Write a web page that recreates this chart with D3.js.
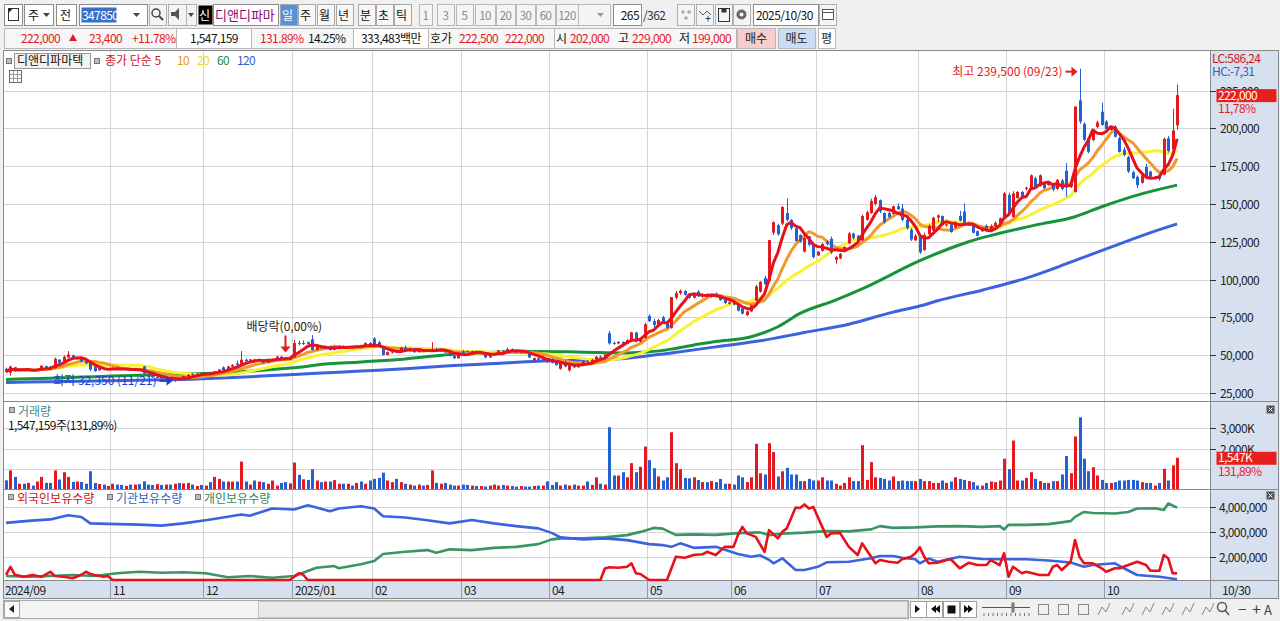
<!DOCTYPE html>
<html>
<head>
<meta charset="utf-8">
<script src="https://cdn.jsdelivr.net/npm/d3@7"></script>
<style>
body { margin: 0; background: #f0f0f0; overflow: hidden; }
svg { display: block; font-family: "Noto Sans CJK KR", "Noto Sans", sans-serif; }
.num { letter-spacing: -0.6px; }
</style>
</head>
<body>
<svg id="chart" width="1280" height="621"></svg>
<script>
// prices in thousand won: [open, high, low, close], one row per trading day (2024/09/25 .. 2025/10/30)
var PRICE_UNIT = 1000;
var ohlc = [
 [41.0,41.8,38.8,39.0],[38.5,43.0,36.5,42.5],[42.0,42.2,39.0,39.5],[39.6,40.8,39.2,40.5],[40.2,40.6,39.5,40.0],
 [40.0,40.9,39.7,40.4],[40.4,40.6,39.6,39.9],[39.9,40.5,39.5,40.3],[40.3,43.5,40.0,43.0],[42.8,43.0,41.3,41.8],
 [42.5,42.8,40.5,41.0],[41.5,48.5,41.0,47.5],[47.0,47.4,44.5,45.0],[45.5,49.8,45.2,49.0],[48.5,52.7,48.0,50.5],
 [50.0,50.3,47.0,47.5],[47.5,49.0,47.0,48.5],[48.5,48.8,45.5,46.0],[46.0,46.5,44.0,44.5],[45.5,46.0,39.5,40.5],
 [42.5,43.0,39.0,39.5],[40.0,42.0,39.8,41.5],[41.5,42.0,40.0,40.5],[40.5,41.5,40.0,41.2],
 [41.2,42.0,40.5,41.5],[41.5,41.8,40.5,40.8],[40.8,41.2,40.0,40.2],[40.2,41.5,40.0,41.0],[41.0,41.2,39.5,39.8],
 [39.8,41.0,39.5,40.6],[40.6,40.8,39.6,39.9],[42.5,43.0,37.5,38.0],[37.0,37.5,35.8,36.2],[36.2,36.8,35.0,35.5],
 [35.2,36.0,34.5,35.6],[35.5,35.8,34.0,34.5],[34.5,35.2,34.0,34.8],[34.8,35.0,33.5,33.8],[33.5,34.6,32.35,34.2],
 [34.2,35.0,33.8,34.0],[34.0,36.5,33.9,36.2],[36.2,37.5,35.8,37.0],[37.5,38.2,36.5,36.8],[36.8,38.0,36.5,37.8],
 [38.0,38.3,37.0,37.4],
 [37.4,38.5,37.0,38.2],[38.2,38.6,37.5,37.8],[37.8,39.5,37.6,39.2],[39.2,40.8,39.0,40.5],[42.0,42.5,39.5,40.0],
 [40.0,43.0,39.8,42.5],[42.5,44.0,42.0,43.5],[44.5,46.5,43.0,43.5],[44.0,52.7,43.8,47.0],[47.0,47.8,45.5,46.0],
 [46.0,47.5,45.5,47.2],[47.2,47.6,46.0,46.5],[46.5,47.5,46.0,47.0],[47.0,47.2,44.5,45.0],[45.0,47.5,44.8,47.2],
 [47.2,47.8,46.5,47.5],[47.5,49.5,47.2,49.0],[49.0,49.5,47.8,48.0],[48.0,48.5,46.5,47.0],[47.0,49.0,46.8,48.5],
 [48.5,60.0,48.3,58.0],[58.0,59.5,56.5,57.5],[57.5,59.8,56.8,58.0],[58.5,59.0,57.0,57.3],[60.5,63.3,53.0,53.5],
 [53.5,55.8,53.0,55.5],[55.5,56.0,54.0,54.5],[54.5,56.2,54.2,55.8],[55.8,56.0,53.0,53.5],[53.5,55.5,53.2,55.0],
 [55.0,56.5,54.6,56.0],[56.0,56.3,54.5,55.0],[55.0,56.2,54.8,55.8],[55.8,56.0,54.8,55.2],[55.2,56.5,55.0,56.2],
 [56.2,57.0,55.5,55.8],[55.8,58.5,55.5,58.0],[58.0,58.8,56.5,57.0],
 [61.0,62.0,55.0,55.5],[58.5,59.5,55.5,56.0],[54.5,55.0,49.8,50.2],[50.2,52.5,50.0,52.0],[52.0,53.0,51.0,52.5],
 [52.5,53.0,51.5,52.0],[52.0,55.5,51.8,55.0],[55.0,56.5,53.5,54.0],[54.0,55.0,52.5,54.5],[54.5,54.8,51.5,52.0],
 [52.0,53.5,51.8,53.0],[53.0,53.5,52.0,52.5],[52.5,53.8,52.2,53.5],[53.0,58.6,52.8,54.0],[54.0,55.0,52.5,52.8],
 [52.8,54.5,52.5,54.2],[54.0,54.3,51.5,51.8],[51.8,52.0,49.2,49.5],[49.5,50.0,47.5,48.0],[48.0,51.5,47.8,51.0],
 [52.5,53.5,51.0,51.5],[52.8,53.2,52.0,52.3],[52.3,53.0,51.5,52.6],[52.6,53.0,51.0,51.2],[51.2,52.0,50.5,51.8],
 [51.8,52.0,48.0,48.5],[48.5,50.5,48.3,50.0],[50.0,51.5,49.8,51.2],[51.2,53.5,51.0,53.0],[53.0,53.5,52.0,52.5],
 [52.5,55.0,52.2,54.0],[54.0,54.5,52.8,53.2],[53.2,53.5,51.5,52.0],[52.0,53.0,51.0,52.5],[52.5,53.0,51.2,51.5],
 [51.5,51.8,48.0,48.5],[46.5,48.5,46.2,48.0],[48.0,48.5,46.5,47.0],[47.0,48.0,46.0,47.5],[47.5,47.8,45.0,45.5],
 [47.5,48.0,44.5,45.0],[45.0,45.5,43.0,43.5],[41.0,46.0,40.5,45.5],[45.5,46.5,42.0,42.5],[40.0,44.5,39.0,44.0],
 [44.0,44.2,41.5,42.0],[42.0,44.0,41.8,43.5],[43.5,46.5,43.2,46.0],[46.0,46.5,44.5,45.0],[45.0,47.5,44.8,47.0],
 [47.0,49.5,46.8,49.0],[49.0,49.8,48.2,48.5],[48.5,51.0,48.3,50.5],[64.5,66.0,57.0,57.8],[58.0,59.0,57.0,57.8],
 [57.8,59.2,57.2,58.8],[58.8,59.0,57.0,57.5],[57.5,60.5,57.3,60.0],[60.0,65.5,59.8,65.0],[65.0,65.5,58.5,59.0],
 [59.0,61.5,58.5,61.0],[61.5,71.5,61.0,70.5],
 [76.0,77.0,72.0,72.5],[72.5,74.0,67.5,70.0],[70.0,74.0,69.5,73.2],[75.0,76.0,72.0,72.5],[72.0,72.5,67.5,68.0],
 [68.0,88.4,67.5,88.4],[88.0,92.5,87.0,91.0],[91.0,93.5,90.0,92.5],[92.5,93.0,89.5,90.0],[90.0,90.5,87.5,88.0],
 [88.0,91.5,87.5,91.0],[92.0,93.0,88.5,89.0],[89.0,91.0,88.0,90.5],[90.5,91.0,88.5,89.0],[88.5,89.5,88.0,89.2],
 [90.5,91.5,88.5,89.0],[89.0,89.5,86.0,86.5],[86.5,87.0,84.0,84.5],[84.0,85.5,83.5,85.0],
 [85.5,86.5,83.0,83.5],[83.5,84.0,79.0,79.5],[81.0,82.0,77.0,77.5],[76.5,79.5,75.8,79.0],[79.0,83.5,78.5,83.0],
 [86.0,96.5,85.5,95.5],[92.0,99.0,91.5,98.5],[101.0,102.5,96.5,97.0],[99.0,126.1,98.5,126.1],[131.0,138.5,129.5,138.0],
 [136.0,137.0,129.0,130.0],[137.0,148.5,136.0,148.0],[144.0,153.7,138.5,139.5],[139.5,140.0,133.0,134.0],[134.0,134.5,125.0,125.5],
 [129.5,130.0,124.5,125.0],[118.5,128.5,118.0,127.5],[128.5,129.0,122.0,123.0],[123.0,123.5,114.0,115.0],
 [116.0,119.0,115.5,118.5],[119.0,124.5,118.5,123.5],[125.0,126.0,122.5,123.5],[127.0,128.5,117.0,118.0],[113.0,115.5,110.5,115.0],
 [114.0,117.5,113.5,117.0],[119.0,122.0,118.5,121.5],[124.0,131.5,123.5,130.5],[130.5,131.0,126.5,127.5],[129.0,129.5,125.5,126.0],
 [126.0,143.0,125.5,142.0],[139.5,145.5,139.0,144.5],[144.0,153.5,143.5,152.0],[150.0,156.0,149.0,154.5],[152.5,153.0,144.0,145.0],
 [144.0,144.5,137.0,138.0],[144.0,145.0,140.5,141.5],[143.5,149.0,143.0,148.5],[148.5,150.5,146.0,146.5],[147.0,150.0,138.5,139.5],
 [139.5,140.5,133.0,134.0],[133.0,134.0,125.5,126.5],[126.0,130.0,125.5,129.0],
 [128.5,129.5,117.0,118.0],[119.5,131.0,119.0,129.5],[130.0,136.5,129.5,135.5],[132.5,141.5,132.0,141.0],[141.0,143.0,138.0,142.5],
 [142.0,142.5,135.5,136.0],[136.0,137.0,135.0,136.5],[136.5,137.0,131.0,131.5],[134.5,138.5,134.0,138.0],[142.0,145.5,138.5,139.0],
 [145.0,150.4,137.0,137.5],[137.0,138.0,136.0,137.5],[136.0,136.5,130.5,131.0],[132.0,132.5,128.5,129.0],[132.0,133.5,131.5,133.0],
 [135.5,136.5,132.5,133.0],[132.0,136.5,131.5,135.5],[135.5,138.5,135.0,137.5],[137.5,141.0,137.0,140.5],[141.5,158.0,141.0,157.0],
 [156.0,157.5,143.0,144.0],[141.5,158.5,141.0,157.0],[154.0,158.5,153.5,158.0],[158.0,158.5,154.0,155.0],[160.0,161.5,159.0,160.8],
 [160.5,169.5,160.0,169.0],[167.0,168.0,160.0,160.5],[162.0,169.5,161.5,169.0],[163.5,164.5,160.0,160.5],[162.5,164.5,162.0,163.5],
 [163.5,164.0,158.5,159.5],[160.0,166.5,159.5,166.0],[165.5,166.5,159.0,160.0],[172.0,177.0,154.8,161.0],[161.5,166.5,160.5,165.0],
 [158.0,214.5,157.5,214.5],[218.5,239.5,203.0,204.5],[203.0,204.0,191.5,192.5],[193.5,194.5,183.5,184.5],[192.3,199.5,191.5,198.9],
 [201.0,205.0,200.0,204.0],[211.0,216.9,202.0,202.2],
 [204.5,205.5,198.5,199.5],[199.0,201.5,198.5,201.0],[201.0,202.0,194.0,194.5],[193.5,194.5,184.0,184.5],[186.0,187.5,181.5,182.5],
 [181.0,182.0,170.5,171.5],[171.0,172.0,166.5,167.0],[168.0,169.0,160.5,162.5],[164.0,170.0,163.5,169.0],[174.5,176.5,168.0,168.5],
 [171.5,172.0,167.5,168.0],[167.5,168.5,166.5,168.0],[169.0,170.0,165.5,166.5],[169.5,194.0,169.0,193.0],[193.5,195.0,184.0,185.0],
 [186.0,213.0,185.0,198.6],[202.0,229.0,199.0,222.0]
];

// daily volume, thousand shares
var volumeK = [
 430,920,600,260,260,300,170,370,600,300,300,920,470,830,600,350,370,350,260,880,300,250,220,150,
 260,220,200,150,220,220,240,380,220,200,240,200,220,220,260,300,280,300,220,150,200,
 170,340,600,500,370,370,370,370,1360,370,220,420,370,340,260,420,170,300,340,280,
 1310,700,480,450,980,420,340,370,370,440,260,260,260,170,300,370,260,420,
 500,550,810,420,340,500,340,260,220,170,220,170,200,920,300,260,300,220,170,170,
 220,200,170,150,150,120,170,220,170,200,170,150,120,150,120,120,150,170,170,380,
 200,340,170,220,170,220,170,170,370,200,580,260,220,3060,
 670,670,830,580,1280,830,1100,2100,1430,1030,620,420,580,
 2810,1280,980,550,530,580,450,340,340,390,340,500,260,260,
 220,670,580,340,580,2240,780,720,2270,1830,620,880,1050,720,720,390,390,500,420,
 420,580,420,420,260,170,300,580,390,390,2170,450,1330,580,550,500,420,620,390,420,390,390,390,
 500,390,390,300,300,420,300,370,580,500,450,390,340,170,170,300,370,340,420,1500,
 980,2400,420,420,550,830,500,390,300,300,390,390,720,1630,780,2600,3550,1500,880,1080,670,450,
 300,300,340,420,420,450,450,420,340,300,300,170,300,1000,420,1173,1547
];

// 60 / 120 day averages: [day index, thousand won]
var ma60Pts = [[0,34.0],[10,34.8],[20,35.8],[30,36.8],[40,37.5],[50,38.5],[60,40.5],[66,42.0],[70,43.5],[80,45.5],
 [90,47.5],[100,50.5],[110,52.0],[120,52.5],[130,52.0],[140,51.5],[145,52.2],[150,54.0],[157,57.8],[160,59.0],
 [168,62.2],[174,68.8],[179,77.6],[187,86.4],[194,95.2],[206,112.5],[217,125.0],[232,136.0],[241,141.6],[247,148.2],
 [255,155.9],[264,162.5]];
var ma120Pts = [[0,32.0],[10,32.5],[20,33.0],[30,33.5],[40,34.0],[50,35.0],[60,36.5],[70,38.0],[80,39.5],[90,41.0],
 [100,43.0],[110,44.5],[120,46.0],[130,46.8],[140,48.0],[150,51.5],[160,55.5],[170,59.5],[180,65.0],[190,70.5],
 [200,78.5],[206,82.5],[210,86.0],[220,93.0],[230,101.0],[240,111.5],[250,122.5],[260,133.0],[264,136.8]];

// holdings, million shares: [day index, value]
var foreignPts = [[0,1.30],[1,1.62],[2,1.30],[4,1.22],[6,1.29],[8,1.22],[10,1.42],[11,1.25],[13,1.22],[15,1.16],
 [17,1.30],[18,1.42],[19,1.33],[20,1.29],[22,1.22],[23,1.25],[24,1.09],[64,1.09],[66,1.36],[67,1.30],[68,1.09],
 [134,1.09],[135,1.55],[136,1.60],[138,1.58],[140,1.62],[141,1.76],[142,1.36],[143,1.33],[145,1.09],[149,1.09],
 [151,2.02],[153,1.98],[155,2.09],[157,2.12],[158,2.22],[160,2.09],[162,2.42],[164,2.42],[165,2.89],[166,3.22],
 [167,2.96],[169,2.82],[171,2.22],[172,3.09],[174,2.76],[175,3.02],[176,3.16],[178,4.00],[179,3.98],[180,4.12],
 [181,3.96],[182,4.02],[184,3.22],[185,2.82],[186,2.96],[188,2.98],[190,2.42],[192,2.09],[193,2.56],[194,2.29],
 [196,1.76],[197,1.89],[199,1.82],[201,1.78],[202,1.92],[204,2.02],[205,2.16],[206,2.40],[207,2.02],[208,1.76],
 [210,1.78],[212,1.89],[213,1.92],[215,1.56],[217,1.78],[219,1.69],[221,1.69],[222,1.89],[224,1.69],[225,2.16],
 [226,1.22],[227,1.62],[229,1.36],[230,1.42],[233,1.29],[235,1.29],[236,1.62],[237,1.69],[238,1.49],[240,1.82],
 [241,2.69],[242,2.02],[243,1.76],[245,1.76],[247,1.56],[248,1.42],[250,1.56],[251,1.56],[253,1.69],[255,1.82],
 [257,1.69],[258,1.46],[260,1.46],[261,2.09],[262,1.96],[263,1.36],[264,1.36]];
var instPts = [[0,3.38],[5,3.46],[10,3.52],[14,3.69],[17,3.62],[19,3.36],[25,3.33],[30,3.31],[35,3.27],[40,3.36],
 [45,3.49],[50,3.63],[53,3.72],[55,3.67],[60,3.96],[65,3.92],[68,4.09],[70,4.00],[73,3.85],[75,3.96],[80,4.05],
 [83,3.96],[85,3.65],[90,3.60],[95,3.49],[100,3.36],[105,3.50],[110,3.36],[115,3.25],[120,3.16],[123,2.98],
 [125,2.80],[130,2.72],[135,2.76],[140,2.69],[145,2.53],[148,2.49],[150,2.42],[152,2.56],[155,2.38],[160,2.42],
 [165,2.13],[168,2.02],[170,2.08],[172,1.90],[173,1.76],[175,1.96],[178,1.49],[180,1.49],[183,1.62],[185,1.80],
 [190,1.82],[195,1.96],[197,2.05],[200,2.05],[202,1.98],[205,1.92],[206,1.76],[208,1.95],[210,1.82],[215,2.02],
 [220,1.93],[225,1.92],[230,1.92],[235,1.87],[240,1.79],[243,1.62],[245,1.69],[250,1.76],[252,1.56],[255,1.29],
 [260,1.22],[264,1.12]];
var retailPts = [[0,1.25],[5,1.22],[10,1.25],[15,1.29],[20,1.25],[25,1.36],[30,1.42],[35,1.38],[40,1.40],[45,1.36],
 [50,1.20],[55,1.25],[60,1.18],[65,1.25],[68,1.45],[70,1.58],[74,1.65],[75,1.56],[80,1.72],[83,1.85],[85,2.13],
 [90,2.22],[95,2.29],[97,2.18],[100,2.32],[105,2.29],[110,2.38],[115,2.42],[120,2.53],[123,2.72],[125,2.76],
 [130,2.76],[135,2.80],[140,2.89],[143,3.02],[146,3.18],[148,3.15],[151,2.90],[155,2.92],[160,2.90],[165,2.97],
 [170,3.00],[172,2.89],[175,2.95],[180,2.99],[185,3.05],[190,3.04],[195,3.12],[197,3.25],[200,3.18],[205,3.20],
 [210,3.24],[215,3.25],[220,3.22],[224,3.25],[225,3.12],[226,3.30],[230,3.30],[235,3.33],[240,3.45],[241,3.62],
 [243,3.82],[245,3.78],[250,3.76],[253,3.82],[255,3.96],[259,3.97],[261,3.90],[262,4.16],[264,3.99]];

var monthStart = [24, 45, 65, 83, 103, 123, 145, 164, 183, 206, 226, 248];
var monthLabels = ['11', '12', '2025/01', '02', '03', '04', '05', '06', '07', '08', '09', '10'];
var firstLabel = '2024/09', lastLabel = '10/30';
var priceTicks = [25000, 50000, 75000, 100000, 125000, 150000, 175000, 200000, 225000];
var volTicks = [1000000, 2000000, 3000000];
var holdTicks = [2000000, 3000000, 4000000];
var exDivIdx = 63;

var RED = '#e3191f', BLUE = '#2360d2';
var svg = d3.select('#chart');

function rect(x0, y0, w, h, fill, stroke) {
    return svg.append('rect').attr('x', x0 + 0.5).attr('y', y0 + 0.5).attr('width', w).attr('height', h)
        .attr('fill', fill).attr('stroke', stroke || 'none');
}
function text(x0, y0, s, color, size, anchor) {
    return svg.append('text').attr('x', x0).attr('y', y0).attr('fill', color || '#111')
        .attr('font-size', size || 12).attr('text-anchor', anchor || 'start').text(s);
}
function tri(pts, fill) {
    return svg.append('path').attr('d', 'M' + pts.join('L') + 'Z').attr('fill', fill);
}

rect(-1, -1, 1282, 623, '#f0f0f0');

// ---- toolbar row 1
var tb = 4, th = 21, tbase = 19.5;
rect(4, tb, 18, th, '#fff', '#8c8c8c');
rect(8, 8, 10, 12, '#fff', '#333');
tri([[8.5, 8.5], [13, 8.5], [8.5, 13]], '#222');
rect(24, tb, 29, th, '#fff', '#8c8c8c'); text(28, tbase, '주');
tri([[43, 13], [50, 13], [46.5, 17]], '#444');
rect(56, tb, 20, th, '#fff', '#8c8c8c'); text(60, tbase, '전');
rect(79, tb, 68, th, '#fff', '#8c8c8c');
rect(81, 7, 35, 15, '#3a6fc9');
text(82, tbase, '347850', '#fff', 12).attr('class', 'num');
tri([[133, 13], [140, 13], [136.5, 17]], '#444');
rect(149, tb, 17, th, '#f4f4f4', '#b0b0b0');
svg.append('circle').attr('cx', 156).attr('cy', 13).attr('r', 4).attr('fill', 'none').attr('stroke', '#444').attr('stroke-width', 1.5);
svg.append('line').attr('x1', 159).attr('y1', 16).attr('x2', 163).attr('y2', 20).attr('stroke', '#444').attr('stroke-width', 2);
rect(168, tb, 18, th, '#f4f4f4', '#b0b0b0');
tri([[171, 12], [175, 12], [179, 8], [179, 20], [175, 16], [171, 16]], '#555');
rect(186, tb, 10, th, '#f4f4f4', '#b0b0b0');
tri([[188, 13], [194, 13], [191, 17]], '#444');
rect(198, 5, 14, 19, '#000');
text(199, tbase, '신', '#fff', 12);
rect(213, tb, 65, th, '#fff', '#8c8c8c');
text(215, tbase, '디앤디파마', '#8a0f6e', 13);
var periods = [[280, '일'], [298, '주'], [317, '월'], [336, '년'], [358, '분'], [376, '초'], [394, '틱']];
periods.forEach(function (p, i) {
    rect(p[0], tb, 17, th, i === 0 ? '#5a8fd8' : '#f7f7f7', '#a8a8a8');
    text(p[0] + 2, tbase, p[1], i === 0 ? '#fff' : '#111', 12);
});
var nums = [[419, 13, '1'], [437, 17, '3'], [456, 17, '5'], [475, 20, '10'], [496, 19, '20'], [516, 19, '30'], [536, 19, '60'], [556, 22, '120']];
nums.forEach(function (n) {
    rect(n[0], tb, n[1], th, '#f4f4f4', '#b8b8b8');
    text(n[0] + n[1] / 2, tbase, n[2], '#888', 11.5, 'middle').attr('class', 'num');
});
rect(578, tb, 32, th, '#f4f4f4', '#b8b8b8');
tri([[597, 13], [604, 13], [600.5, 17]], '#999');
rect(613, tb, 28, th, '#fff', '#8c8c8c');
text(639, tbase, '265', '#111', 12, 'end').attr('class', 'num');
text(643, tbase, '/362', '#333', 12).attr('class', 'num');
[677, 696, 715, 733].forEach(function (bx) {
    rect(bx, tb, 17, th, '#f4f4f4', '#b0b0b0');
});
svg.append('circle').attr('cx', 683).attr('cy', 12).attr('r', 1.8).attr('fill', '#aaa');
svg.append('circle').attr('cx', 689).attr('cy', 12).attr('r', 1.8).attr('fill', '#aaa');
svg.append('circle').attr('cx', 686).attr('cy', 18).attr('r', 1.8).attr('fill', '#aaa');
svg.append('path').attr('d', 'M699,11L703,15L707,11L711,15').attr('fill', 'none').attr('stroke', '#555');
text(705, 23, '+', '#222', 11);
rect(718, 8, 11, 13, 'none', '#333');
rect(721, 8, 5, 4, '#333');
svg.append('circle').attr('cx', 741.5).attr('cy', 14.5).attr('r', 5).attr('fill', '#666');
svg.append('circle').attr('cx', 741.5).attr('cy', 14.5).attr('r', 2).attr('fill', '#f4f4f4');
rect(753, tb, 65, th, '#fff', '#8c8c8c');
text(756, tbase, '2025/10/30', '#111', 12).attr('class', 'num');
rect(819, tb, 17, th, '#f4f4f4', '#b0b0b0');
rect(822, 9, 11, 10, '#fff', '#555');
svg.append('line').attr('x1', 822).attr('x2', 834).attr('y1', 12.5).attr('y2', 12.5).attr('stroke', '#555');

// ---- quote row 2
var qb = 28, qh = 20, qbase = 43;
rect(4, qb, 172, qh, '#f6f6f6', '#b8b8b8');
rect(176, qb, 75, qh, '#fff', '#b8b8b8');
rect(251, qb, 102, qh, '#f6f6f6', '#b8b8b8');
rect(353, qb, 75, qh, '#fff', '#b8b8b8');
rect(428, qb, 126, qh, '#f6f6f6', '#b8b8b8');
rect(554, qb, 182, qh, '#f6f6f6', '#b8b8b8');
text(21, qbase, '222,000', RED).attr('class', 'num');
tri([[69, 41], [77, 41], [73, 34]], RED);
text(89, qbase, '23,400', RED).attr('class', 'num');
text(132, qbase, '+11.78%', RED).attr('class', 'num');
text(190, qbase, '1,547,159').attr('class', 'num');
text(260, qbase, '131.89%', RED).attr('class', 'num');
text(308, qbase, '14.25%').attr('class', 'num');
text(361, qbase, '333,483백만').attr('class', 'num');
text(430, qbase, '호가');
text(459, qbase, '222,500', RED).attr('class', 'num');
text(505, qbase, '222,000', RED).attr('class', 'num');
text(556, qbase, '시');
text(570, qbase, '202,000', RED).attr('class', 'num');
text(618, qbase, '고');
text(632, qbase, '229,000', RED).attr('class', 'num');
text(679, qbase, '저');
text(692, qbase, '199,000', RED).attr('class', 'num');
rect(737, qb, 38, qh, '#f6cccc', '#b8b8b8'); text(756, qbase, '매수', '#222', 12, 'middle');
rect(778, qb, 37, qh, '#c9def5', '#b8b8b8'); text(796.5, qbase, '매도', '#222', 12, 'middle');
rect(818, qb, 17, qh, '#fff', '#b8b8b8'); text(826.5, qbase, '평', '#222', 12, 'middle');

// ---- chart frame
var plotL = 3, plotR = 1210, axR = 1278;
var priceTop = 50, priceBot = 401, volBot = 489, holdBot = 580, dateBot = 598;
rect(plotL, priceTop, axR - plotL, dateBot - priceTop, '#fff');
rect(plotR, priceTop, axR - plotR, holdBot - priceTop, '#d6e0ef');
rect(plotL, holdBot, axR - plotL, dateBot - holdBot, '#d6e0ef');

var x = d3.scaleLinear().domain([0, ohlc.length - 1]).range([6, 1177.1]);
var step = x(1) - x(0);
var yP = d3.scaleLinear().domain([19700, 251850]).range([priceBot, priceTop]);
var yV = d3.scaleLinear().domain([0, 4200000]).range([volBot, 404.2]);
var yH = d3.scaleLinear().domain([1090000, 4700000]).range([holdBot, 490]);

var grid = svg.append('g').attr('stroke', '#d5d5d5').attr('stroke-width', 1);
priceTicks.forEach(function (t) {
    var yy = Math.round(yP(t)) + 0.5;
    grid.append('line').attr('x1', plotL).attr('x2', plotR).attr('y1', yy).attr('y2', yy);
});
volTicks.forEach(function (t) {
    var yy = Math.round(yV(t)) + 0.5;
    grid.append('line').attr('x1', plotL).attr('x2', plotR).attr('y1', yy).attr('y2', yy);
});
holdTicks.forEach(function (t) {
    var yy = Math.round(yH(t)) + 0.5;
    grid.append('line').attr('x1', plotL).attr('x2', plotR).attr('y1', yy).attr('y2', yy);
});
monthStart.forEach(function (m) {
    var xx = Math.round(x(m) - step / 2) + 0.5;
    grid.append('line').attr('x1', xx).attr('x2', xx).attr('y1', priceTop).attr('y2', holdBot);
    svg.append('line').attr('x1', xx).attr('x2', xx).attr('y1', holdBot).attr('y2', dateBot).attr('stroke', '#8e9bb0');
});

// panel borders
var border = svg.append('g').attr('stroke', '#8a8a8a').attr('fill', 'none');
border.append('rect').attr('x', plotL + 0.5).attr('y', priceTop + 0.5).attr('width', axR - plotL).attr('height', dateBot - priceTop);
[priceBot, volBot, holdBot].forEach(function (yy) {
    border.append('line').attr('x1', plotL).attr('x2', axR).attr('y1', yy + 0.5).attr('y2', yy + 0.5);
});
border.append('line').attr('x1', plotR + 0.5).attr('x2', plotR + 0.5).attr('y1', priceTop).attr('y2', dateBot);

// ---- moving averages
var closes = ohlc.map(function (d) { return d[3]; });
function sma(n) {
    return closes.map(function (c, i) { return d3.mean(closes.slice(Math.max(0, i - n + 1), i + 1)); });
}
var maLine = d3.line().x(function (d, i) { return x(i); }).y(function (d) { return yP(d * PRICE_UNIT); });
var ptLine = d3.line().x(function (d) { return x(d[0]); }).y(function (d) { return yP(d[1] * PRICE_UNIT); }).curve(d3.curveMonotoneX);
var maG = svg.append('g').attr('fill', 'none').attr('stroke-width', 3).attr('stroke-linejoin', 'round');
maG.append('path').attr('d', ptLine(ma120Pts)).attr('stroke', '#3a63e0');
maG.append('path').attr('d', ptLine(ma60Pts)).attr('stroke', '#17943a');
maG.append('path').attr('d', maLine(sma(20))).attr('stroke', '#f8f232');
maG.append('path').attr('d', maLine(sma(10))).attr('stroke', '#f2982c');

// ---- candles
function col(d) { return d[3] >= d[0] ? RED : BLUE; }
var cg = svg.append('g');
var candles = cg.selectAll('g').data(ohlc).enter().append('g');
candles.append('line')
    .attr('x1', function (d, i) { return Math.round(x(i)) + 0.5; })
    .attr('x2', function (d, i) { return Math.round(x(i)) + 0.5; })
    .attr('y1', function (d) { return yP(d[1] * PRICE_UNIT); })
    .attr('y2', function (d) { return yP(d[2] * PRICE_UNIT); })
    .attr('stroke', col);
candles.append('rect')
    .attr('x', function (d, i) { return Math.round(x(i)) - 1; })
    .attr('width', 3)
    .attr('y', function (d) { return yP(Math.max(d[0], d[3]) * PRICE_UNIT); })
    .attr('height', function (d) { return Math.max(1, Math.abs(yP(d[0] * PRICE_UNIT) - yP(d[3] * PRICE_UNIT))); })
    .attr('fill', col);

svg.append('path').attr('d', maLine(sma(5))).attr('fill', 'none').attr('stroke', '#e8101a').attr('stroke-width', 3).attr('stroke-linejoin', 'round');

// ---- volume bars
svg.append('g').selectAll('rect').data(volumeK).enter().append('rect')
    .attr('x', function (d, i) { return Math.round(x(i)) - 1; })
    .attr('width', 3)
    .attr('y', function (d) { return yV(d * 1000); })
    .attr('height', function (d) { return volBot - yV(d * 1000); })
    .attr('fill', function (d, i) { return col(ohlc[i]); });

// ---- holdings lines
var hLine = d3.line().x(function (d) { return x(d[0]); }).y(function (d) { return yH(d[1] * 1e6); });
var hg = svg.append('g').attr('fill', 'none').attr('stroke-width', 2.6).attr('stroke-linejoin', 'round');
hg.append('path').attr('d', hLine(retailPts)).attr('stroke', '#3a9565');
hg.append('path').attr('d', hLine(instPts)).attr('stroke', '#3a63e0');
hg.append('path').attr('d', hLine(foreignPts)).attr('stroke', '#e8101a');

// ---- right axes
var fmt = d3.format(',');
var ax = svg.append('g').attr('stroke', '#333');
priceTicks.forEach(function (t) {
    var yy = Math.round(yP(t)) + 0.5;
    ax.append('line').attr('x1', plotR).attr('x2', plotR + 6).attr('y1', yy).attr('y2', yy);
    text(1220, yy + 4.5, fmt(t), '#222', 12).attr('class', 'num');
});
[2000000, 3000000].forEach(function (t) {
    var yy = Math.round(yV(t)) + 0.5;
    ax.append('line').attr('x1', plotR).attr('x2', plotR + 6).attr('y1', yy).attr('y2', yy);
    text(1220, yy + 4.5, fmt(t / 1000) + 'K', '#222', 12).attr('class', 'num');
});
holdTicks.forEach(function (t) {
    var yy = Math.round(yH(t)) + 0.5;
    ax.append('line').attr('x1', plotR).attr('x2', plotR + 6).attr('y1', yy).attr('y2', yy);
    text(1219, yy + 4.5, fmt(t), '#222', 12).attr('class', 'num');
});

// current price / volume tags
var last = ohlc[ohlc.length - 1];
var lastY = yP(last[3] * PRICE_UNIT);
rect(1216, lastY - 6.5, 60, 13, '#e8201c');
text(1218, lastY + 4.5, fmt(last[3] * PRICE_UNIT), '#fff', 12).attr('class', 'num');
text(1218, lastY + 18, '11,78%', '#e8201c', 12).attr('class', 'num');
var lastV = volumeK[volumeK.length - 1] * 1000;
var vY = yV(lastV);
rect(1216, vY - 6.5, 60, 13, '#e8201c');
text(1218, vY + 4.5, fmt(Math.round(lastV / 1000)) + 'K', '#fff', 12).attr('class', 'num');
text(1218, vY + 18, '131,89%', '#e8201c', 12).attr('class', 'num');
text(1212, 63, 'LC:586,24', '#d0141c', 12).attr('class', 'num');
text(1212, 76, 'HC:-7,31', '#2f5fbf', 12).attr('class', 'num');

// panel close buttons
[405, 491].forEach(function (yy) {
    rect(1266, yy, 8, 8, '#555');
    svg.append('path').attr('d', 'M' + 1268.5 + ',' + (yy + 2.5) + 'l4,4m0,-4l-4,4').attr('stroke', '#fff');
});

// ---- date axis labels
text(5, 595, firstLabel, '#222', 12).attr('class', 'num');
monthStart.forEach(function (m, i) {
    text(Math.round(x(m) - step / 2) + 3, 595, monthLabels[i], '#222', 12).attr('class', 'num');
});
text(1222, 595, lastLabel, '#222', 12).attr('class', 'num');

// ---- legends
function legendBox(x0, y0) { rect(x0, y0, 5, 5, '#bbb', '#777'); }
legendBox(6, 58);
rect(14, 53, 76, 15, '#f2f2f2', '#9a9a9a');
text(17, 65, '디앤디파마텍', '#111', 12);
legendBox(94, 58);
text(105, 65, '종가 단순 5', '#d0141c', 12);
text(177, 65, '10', '#e49b16', 12).attr('class', 'num');
text(197, 65, '20', '#e6dc10', 12).attr('class', 'num');
text(217, 65, '60', '#1f8a3a', 12).attr('class', 'num');
text(237, 65, '120', '#2f5fbf', 12).attr('class', 'num');
rect(9, 70, 12, 12, '#fff', '#666');
svg.append('path').attr('d', 'M9.5,74.5h12M9.5,78.5h12M13.5,70.5v12M17.5,70.5v12').attr('stroke', '#999');

legendBox(9, 407);
text(18, 416, '거래량', '#3c8c8c', 12);
text(8, 430, '1,547,159주(131,89%)', '#111', 12).attr('class', 'num');

legendBox(8, 494);
text(17, 503, '외국인보유수량', '#d0141c', 12);
legendBox(107, 494);
text(116, 503, '기관보유수량', '#2f5fbf', 12);
legendBox(195, 494);
text(204, 503, '개인보유수량', '#2f8a5a', 12);

// ---- annotations
var hiIdx = d3.maxIndex(ohlc, function (d) { return d[1]; });
var loIdx = d3.minIndex(ohlc, function (d) { return d[2]; });
var hiX = x(hiIdx) - 2, hiY = yP(ohlc[hiIdx][1] * PRICE_UNIT) + 3;
svg.append('line').attr('x1', hiX - 12).attr('x2', hiX - 5).attr('y1', hiY).attr('y2', hiY).attr('stroke', RED).attr('stroke-width', 2);
tri([[hiX - 6, hiY - 5], [hiX, hiY], [hiX - 6, hiY + 5]], RED);
text(hiX - 15, hiY + 4.5, '최고 ' + fmt(ohlc[hiIdx][1] * PRICE_UNIT) + ' (09/23)', RED, 12, 'end');
var loX = x(loIdx) - 2, loY = yP(ohlc[loIdx][2] * PRICE_UNIT) - 1;
svg.append('line').attr('x1', loX - 13).attr('x2', loX - 5).attr('y1', loY).attr('y2', loY).attr('stroke', '#1a3fd0').attr('stroke-width', 2);
tri([[loX - 6, loY - 5], [loX, loY], [loX - 6, loY + 5]], '#1a3fd0');
text(loX - 16, loY + 4.5, '최저 ' + fmt(ohlc[loIdx][2] * PRICE_UNIT) + ' (11/21)', '#1a3fd0', 12, 'end');
var dX = Math.round(x(exDivIdx)) + 0.5, dY = yP(ohlc[exDivIdx][1] * PRICE_UNIT) - 5;
svg.append('line').attr('x1', dX).attr('x2', dX).attr('y1', dY - 17).attr('y2', dY - 5).attr('stroke', RED).attr('stroke-width', 2);
tri([[dX - 5, dY - 6], [dX + 5, dY - 6], [dX, dY]], RED);
text(dX - 39, dY - 21, '배당락(0,00%)', '#222', 12);

// ---- bottom scroll bar
rect(3, 600, 905, 18, '#f3f3f3', '#a8a8a8');
rect(4, 601, 15, 16, '#fafafa', '#a8a8a8');
tri([[14, 605], [14, 613], [9, 609]], '#222');
rect(258, 601, 649, 16, '#e9e9e9', '#c4c4c4');
[910, 926, 943, 960].forEach(function (bx) { rect(bx, 601, 16, 16, '#fff', '#a0a0a0'); });
tri([[915, 605], [915, 613], [920, 609]], '#111');
tri([[936, 605], [936, 613], [931, 609]], '#111'); tri([[940, 605], [940, 613], [935, 609]], '#111');
rect(947, 605, 8, 8, '#111');
tri([[964, 605], [964, 613], [969, 609]], '#111'); tri([[968, 605], [968, 613], [973, 609]], '#111');
svg.append('line').attr('x1', 982).attr('x2', 1030).attr('y1', 607.5).attr('y2', 607.5).attr('stroke', '#555');
rect(1011, 602, 3, 10, '#777');
for (var k = 0; k < 11; k++) {
    svg.append('line').attr('x1', 984 + k * 4.5).attr('x2', 984 + k * 4.5).attr('y1', 613).attr('y2', 616).attr('stroke', '#777');
}
[1038, 1058, 1078, 1098, 1122, 1142, 1162, 1182, 1202].forEach(function (ix, i) {
    if (i < 3) {
        rect(ix, 604, 10, 10, 'none', '#888');
    } else {
        svg.append('path').attr('d', 'M' + ix + ',615l4,-8l4,5l4,-9').attr('fill', 'none').attr('stroke', '#888');
    }
});
svg.append('circle').attr('cx', 1222).attr('cy', 607).attr('r', 4.5).attr('fill', 'none').attr('stroke', '#555').attr('stroke-width', 1.5);
svg.append('line').attr('x1', 1225).attr('y1', 610).attr('x2', 1229).attr('y2', 615).attr('stroke', '#555').attr('stroke-width', 1.5);
text(1238, 615, '−', '#444', 15);
text(1252, 615, '+', '#444', 16);
text(1264, 615, 'A', '#444', 13);
</script>
</body>
</html>
